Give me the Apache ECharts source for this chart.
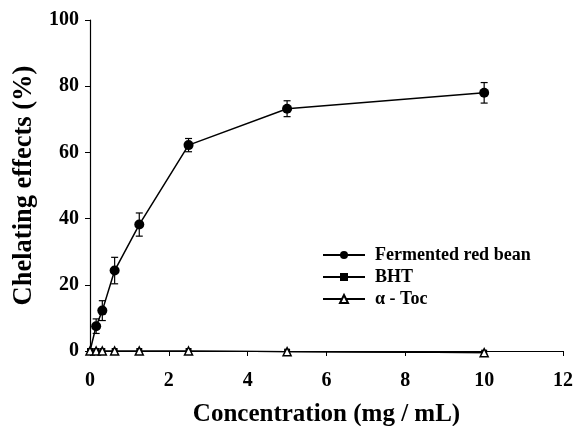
<!DOCTYPE html>
<html>
<head>
<meta charset="utf-8">
<script src="https://cdn.jsdelivr.net/npm/echarts@6/dist/echarts.min.js"></script>
<style>
  html, body { margin: 0; padding: 0; background: #fff; }
  #chart { width: 575px; height: 426px; }
</style>
</head>
<body>
<div id="chart"></div>
<script>
const concentrations = [0, 0.156, 0.3125, 0.625, 1.25, 2.5, 5, 10];
const redBean = [0, 7.5, 12.2, 24.3, 38.2, 62.2, 73.2, 78.0];
const redBeanErr = [0, 2.2, 3.0, 4.0, 3.5, 2.0, 2.4, 3.1];
const bht = [0, 0, 0, 0, 0, 0, -0.2, -0.5];
const toc = [0, 0, 0, 0, 0, 0, -0.2, -0.5];
const xTicks = [0, 2, 4, 6, 8, 10, 12];
const yTicks = [0, 20, 40, 60, 80, 100];

const font = "Liberation Serif";
const pairs = (ys) => concentrations.map((x, i) => [x, ys[i]]);
const errData = concentrations
  .map((x, i) => [x, redBean[i] - redBeanErr[i], redBean[i] + redBeanErr[i]])
  .filter((d, i) => redBeanErr[i] > 0);
// the origin point of the red bean curve sits under the triangle, no marker there
const redBeanData = pairs(redBean).map((p) => (p[0] === 0 ? { value: p, symbol: "none" } : p));

const chart = echarts.init(document.getElementById("chart"));
chart.setOption({
  animation: false,
  backgroundColor: "#fff",
  grid: { left: 90, right: 12, top: 20, bottom: 75, outerBoundsMode: "none" },
  xAxis: {
    type: "value",
    min: 0,
    max: 12,
    interval: 2,
    name: "Concentration (mg / mL)",
    nameLocation: "middle",
    nameGap: 51,
    nameTextStyle: { fontFamily: font, fontWeight: "bold", fontSize: 25, color: "#000" },
    axisLine: { show: true, lineStyle: { color: "#000", width: 1.2 } },
    axisTick: { show: true, inside: false, length: 5, lineStyle: { color: "#000" } },
    axisLabel: {
      margin: 20, fontFamily: font, fontWeight: "bold", fontSize: 20, color: "#000",
      formatter: (v) => (xTicks.includes(v) ? String(v) : ""),
    },
    splitLine: { show: false },
  },
  yAxis: {
    type: "value",
    min: 0,
    max: 100,
    interval: 20,
    name: "Chelating effects (%)",
    nameLocation: "middle",
    nameGap: 48,
    nameTextStyle: { fontFamily: font, fontWeight: "bold", fontSize: 26.5, color: "#000" },
    axisLine: { show: true, lineStyle: { color: "#000", width: 1.2 } },
    axisTick: { show: true, inside: false, length: 5, lineStyle: { color: "#000" } },
    axisLabel: {
      margin: 11, fontFamily: font, fontWeight: "bold", fontSize: 20, color: "#000",
      formatter: (v) => (yTicks.includes(v) ? String(v) : ""),
    },
    splitLine: { show: false },
  },
  legend: {
    orient: "vertical",
    left: 317,
    top: 241,
    itemWidth: 42,
    itemHeight: 10,
    itemGap: 4,
    textStyle: { fontFamily: font, fontWeight: "bold", fontSize: 18, color: "#000", padding: [0, 0, 0, 5] },
    data: ["Fermented red bean", "BHT", "\u03b1 - Toc"],
  },
  series: [
    {
      name: "Fermented red bean",
      type: "line",
      data: redBeanData,
      symbol: "circle",
      symbolSize: 10,
      clip: false,
      lineStyle: { color: "#000", width: 1.5 },
      itemStyle: { color: "#000" },
      z: 3,
    },
    {
      name: "BHT",
      type: "line",
      data: pairs(bht),
      symbol: "rect",
      symbolSize: 6,
      clip: false,
      lineStyle: { color: "#000", width: 1.2 },
      itemStyle: { color: "#000" },
      z: 2,
    },
    {
      name: "\u03b1 - Toc",
      type: "line",
      data: pairs(toc),
      symbol: "triangle",
      symbolSize: 8,
      clip: false,
      lineStyle: { color: "#000", width: 1.2 },
      itemStyle: { color: "#fff", borderColor: "#000", borderWidth: 1.5 },
      z: 4,
    },
    {
      type: "custom",
      data: errData,
      z: 5,
      renderItem: (params, api) => {
        const lo = api.coord([api.value(0), api.value(1)]);
        const hi = api.coord([api.value(0), api.value(2)]);
        const w = 3.5;
        const style = { stroke: "#000", lineWidth: 1.2 };
        return {
          type: "group",
          children: [
            { type: "line", shape: { x1: lo[0], y1: lo[1], x2: hi[0], y2: hi[1] }, style },
            { type: "line", shape: { x1: lo[0] - w, y1: lo[1], x2: lo[0] + w, y2: lo[1] }, style },
            { type: "line", shape: { x1: hi[0] - w, y1: hi[1], x2: hi[0] + w, y2: hi[1] }, style },
          ],
        };
      },
    },
  ],
});
</script>
</body>
</html>
